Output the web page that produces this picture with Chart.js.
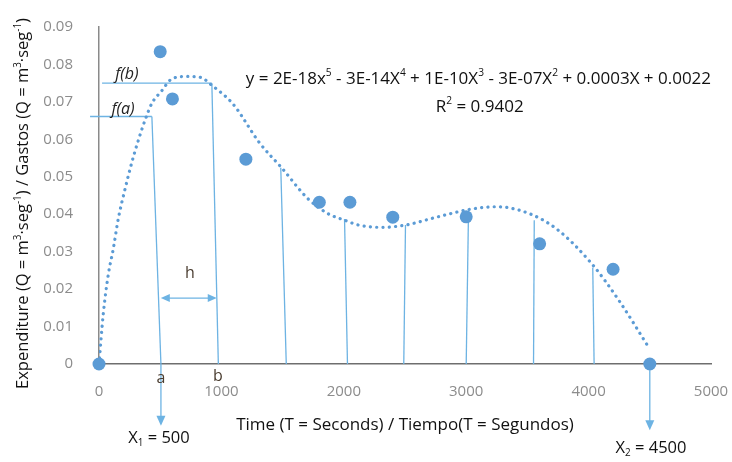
<!DOCTYPE html>
<html>
<head>
<meta charset="utf-8">
<script src="https://cdn.jsdelivr.net/npm/chart.js@4.4.0/dist/chart.umd.min.js"></script>
<style>
html, body { margin: 0; padding: 0; background: #fff; }
#wrap { width: 732px; height: 462px; position: relative; }
</style>
</head>
<body>
<div id="wrap"><canvas id="chart"></canvas></div>
<script>
// Observed values (time in seconds, expenditure)
const obsX = [0, 500, 600, 1200, 1800, 2050, 2400, 3000, 3600, 4200, 4500];
const obsY = [0, 0.0834, 0.0708, 0.0547, 0.0432, 0.0432, 0.0392, 0.0393, 0.0321, 0.0253, 0];

// Polynomial trendline
const trendX = [0, 35, 76, 117, 157, 212, 267, 321, 375, 430, 511, 593, 718, 824, 930, 1093, 1313, 1495, 1705, 1868, 2006, 2121, 2308, 2504, 2757, 3030, 3251, 3528, 3749, 4025, 4247, 4490];
const trendY = [0, 0.0134, 0.0239, 0.0308, 0.0387, 0.0466, 0.0537, 0.0597, 0.065, 0.0695, 0.0729, 0.0761, 0.0768, 0.0766, 0.0742, 0.0695, 0.059, 0.0523, 0.0442, 0.0402, 0.0384, 0.0371, 0.0365, 0.0371, 0.0392, 0.0413, 0.042, 0.040, 0.0358, 0.0268, 0.017, 0.0045];

// Vertical strip lines (hand drawn, slightly slanted)
const stripBaseX = [506, 975, 1530, 2030, 2490, 3000, 3550, 4045];
const stripTopX = [432, 922, 1485, 2006, 2504, 3018, 3556, 4034];
const stripTopY = [0.0661, 0.075, 0.0524, 0.0387, 0.0371, 0.0389, 0.0384, 0.0258];

// f(a), f(b) guide lines
const guideNames = ['f(a)', 'f(b)'];
const guideFromX = [-73, 25];
const guideToX = [432, 922];
const guideY = [0.0661, 0.075];

const yTicks = [0, 0.01, 0.02, 0.03, 0.04, 0.05, 0.06, 0.07, 0.08, 0.09];
const xTicks = [0, 1000, 2000, 3000, 4000, 5000];

const BLUE = '#5B9BD5';
const LINE = '#6DB3E3';
const FONT = '"Open Sans", "Noto Sans", sans-serif';

const datasets = [];
datasets.push({
    label: 'Observed',
    data: obsX.map((x, i) => ({ x, y: obsY[i] })),
    backgroundColor: BLUE, borderWidth: 0, pointRadius: 6.5, showLine: false, clip: false
});
datasets.push({
    label: 'Trend',
    data: trendX.map((x, i) => ({ x, y: trendY[i] })),
    showLine: true, borderColor: BLUE, borderWidth: 3.2, borderDash: [0.1, 6.2], borderCapStyle: 'round',
    cubicInterpolationMode: 'monotone', pointRadius: 0
});
stripBaseX.forEach((bx, i) => {
    datasets.push({
        label: 'strip' + i,
        data: [{ x: bx, y: 0 }, { x: stripTopX[i], y: stripTopY[i] }],
        showLine: true, borderColor: LINE, borderWidth: 1.3, pointRadius: 0
    });
});
guideNames.forEach((n, i) => {
    datasets.push({
        label: n,
        data: [{ x: guideFromX[i], y: guideY[i] }, { x: guideToX[i], y: guideY[i] }],
        showLine: true, borderColor: LINE, borderWidth: 1.3, pointRadius: 0, clip: false
    });
});

function drawRich(ctx, parts, cx, cy, size, color) {
    let w = 0;
    parts.forEach(p => {
        ctx.font = (p[1] ? size * 0.6 : size) + 'px ' + FONT;
        w += ctx.measureText(p[0]).width;
    });
    let px = cx - w / 2;
    ctx.fillStyle = color;
    ctx.textBaseline = 'middle';
    ctx.textAlign = 'left';
    parts.forEach(p => {
        const s = p[1] ? size * 0.6 : size;
        ctx.font = s + 'px ' + FONT;
        const dy = p[1] === 'sup' ? -size * 0.32 : p[1] === 'sub' ? size * 0.3 : 0;
        ctx.fillText(p[0], px, cy + dy);
        px += ctx.measureText(p[0]).width;
    });
}

function downArrow(ctx, x, y1, y2) {
    ctx.beginPath();
    ctx.moveTo(x, y1);
    ctx.lineTo(x, y2 - 8);
    ctx.stroke();
    ctx.beginPath();
    ctx.moveTo(x - 4.5, y2 - 10);
    ctx.lineTo(x + 4.5, y2 - 10);
    ctx.lineTo(x, y2);
    ctx.closePath();
    ctx.fill();
}

const annotate = {
    id: 'annotate',
    afterDraw(chart) {
        const { ctx, scales: { x, y } } = chart;
        ctx.save();
        ctx.strokeStyle = LINE;
        ctx.fillStyle = LINE;
        ctx.lineWidth = 1.3;

        // X1 and X2 arrows under the axis
        downArrow(ctx, x.getPixelForValue(506), y.getPixelForValue(0), y.getPixelForValue(-0.0165));
        downArrow(ctx, x.getPixelForValue(4500), y.getPixelForValue(0) + 6, y.getPixelForValue(-0.0177));

        // h double arrow
        const hy = y.getPixelForValue(0.0176);
        const h1 = x.getPixelForValue(505), h2 = x.getPixelForValue(962);
        ctx.beginPath();
        ctx.moveTo(h1 + 6, hy); ctx.lineTo(h2 - 6, hy); ctx.stroke();
        ctx.beginPath();
        ctx.moveTo(h1, hy); ctx.lineTo(h1 + 9, hy - 4); ctx.lineTo(h1 + 9, hy + 4); ctx.closePath(); ctx.fill();
        ctx.beginPath();
        ctx.moveTo(h2, hy); ctx.lineTo(h2 - 9, hy - 4); ctx.lineTo(h2 - 9, hy + 4); ctx.closePath(); ctx.fill();

        // labels
        ctx.fillStyle = '#222';
        ctx.textAlign = 'center';
        ctx.textBaseline = 'middle';
        ctx.font = 'italic 16px ' + FONT;
        ctx.fillText('f(b)', x.getPixelForValue(228), y.getPixelForValue(0.0774));
        ctx.fillText('f(a)', x.getPixelForValue(196), y.getPixelForValue(0.0679));
        ctx.font = '16px ' + FONT;
        ctx.fillStyle = '#4a3d30';
        ctx.fillText('h', x.getPixelForValue(742), y.getPixelForValue(0.0242));
        ctx.fillText('a', x.getPixelForValue(506), y.getPixelForValue(-0.0038));
        ctx.fillText('b', x.getPixelForValue(971), y.getPixelForValue(-0.0032));

        drawRich(ctx, [['X'], ['1', 'sub'], [' = 500']], x.getPixelForValue(490), y.getPixelForValue(-0.0199), 16.5, '#111');
        drawRich(ctx, [['X'], ['2', 'sub'], [' = 4500']], x.getPixelForValue(4510), y.getPixelForValue(-0.0226), 16.5, '#111');

        // trendline equation
        drawRich(ctx, [['y = 2E-18x'], ['5', 'sup'], [' - 3E-14X'], ['4', 'sup'], [' + 1E-10X'], ['3', 'sup'],
            [' - 3E-07X'], ['2', 'sup'], [' + 0.0003X + 0.0022']],
            x.getPixelForValue(3100), y.getPixelForValue(0.0762), 17, '#111');
        drawRich(ctx, [['R'], ['2', 'sup'], [' = 0.9402']], x.getPixelForValue(3110), y.getPixelForValue(0.0687), 17, '#111');

        // y axis title
        ctx.translate(23, (chart.chartArea.top + chart.chartArea.bottom) / 2 + 8);
        ctx.rotate(-Math.PI / 2);
        drawRich(ctx, [['Expenditure (Q = m'], ['3', 'sup'], ['·seg'], ['-1', 'sup'], [') / Gastos (Q = m'], ['3', 'sup'], ['·seg'], ['-1', 'sup'], [')']],
            0, 0, 16.5, '#111');
        ctx.restore();
    }
};

new Chart(document.getElementById('chart'), {
    type: 'scatter',
    data: { datasets },
    options: {
        responsive: true, maintainAspectRatio: false, animation: false, devicePixelRatio: 1,
        layout: { padding: { left: 0, right: 0, top: 22, bottom: 0 } },
        plugins: { legend: { display: false }, tooltip: { enabled: false } },
        scales: {
            x: {
                type: 'linear', min: 0, max: 5000,
                afterBuildTicks: (s) => { s.ticks = xTicks.map(v => ({ value: v })); },
                afterFit: (s) => { s.height = 98; s.paddingRight = 21; },
                grid: { display: false },
                border: { display: true, color: '#6e6e6e', width: 1.5 },
                ticks: { color: '#8c8c8c', font: { family: FONT, size: 15 }, padding: 11, callback: (v) => String(v) },
                title: { display: true, text: 'Time (T = Seconds) / Tiempo(T = Segundos)', color: '#111', font: { family: FONT, size: 17 }, padding: { top: 0, bottom: 27 } }
            },
            y: {
                type: 'linear', min: 0, max: 0.09,
                afterBuildTicks: (s) => { s.ticks = yTicks.map(v => ({ value: v })); },
                afterFit: (s) => { s.width = 99; },
                grid: { display: false },
                border: { display: true, color: '#8a8a8a', width: 1.5 },
                ticks: { color: '#8c8c8c', font: { family: FONT, size: 15 }, padding: 18, callback: (v) => v === 0 ? '0' : v.toFixed(2) }
            }
        }
    },
    plugins: [annotate]
});
</script>
</body>
</html>
